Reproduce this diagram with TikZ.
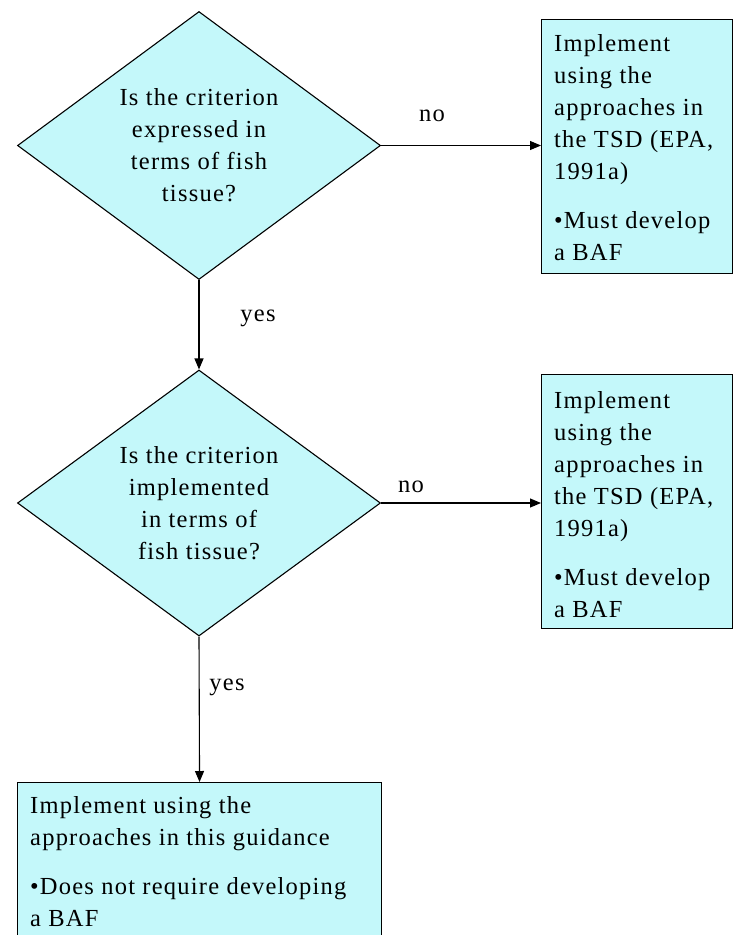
\documentclass[tikz,border=0pt]{standalone}
\usepackage{fontspec}
\setmainfont{Liberation Serif}
\newfontfamily\diagfont{Liberation Serif}[LetterSpace=5]
\usetikzlibrary{shapes.geometric,arrows.meta}
\definecolor{boxfill}{RGB}{196,248,250}
\begin{document}
\begin{tikzpicture}[x=1pt,y=-1pt,
  txt/.style={font=\diagfont\fontsize{24.5}{32}\selectfont},
  decision/.style={diamond, draw=black, fill=boxfill, line width=1.1pt, inner sep=0pt,
    shape aspect=1.354, minimum width=363pt, minimum height=268pt, align=center, txt},
  procbox/.style={rectangle, draw=black, fill=boxfill, line width=1.1pt, inner sep=0pt, anchor=north west},
  boxtext/.style={anchor=north west, align=left, inner sep=0pt, txt},
  lbl/.style={inner sep=0pt, txt},
  arr/.style={line width=1.1pt, -{Triangle[length=11pt,width=9pt]}}]
\useasboundingbox (0,0) rectangle (733,935);
\clip (0,0) rectangle (733,935);
% decisions
\node[decision] (d1) at (199,145.5) {Is the criterion\\expressed in\\terms of fish\\tissue?};
\node[decision, minimum height=266pt] (d2) at (199,503) {Is the criterion\\implemented\\in terms of\\fish tissue?};
% process boxes
\node[procbox, minimum width=191pt, minimum height=254pt] (b1) at (541,19) {};
\node[procbox, minimum width=191pt, minimum height=254pt] (b2) at (541,374) {};
\node[procbox, minimum width=364pt, minimum height=175pt] (b3) at (17,782) {};
% box texts
\node[boxtext] (t1) at (554,34) {Implement\\using the\\approaches in\\the TSD (EPA,\\1991a)\\[17pt]•Must develop\\a BAF};
\node[boxtext] (t2) at (554,391) {Implement\\using the\\approaches in\\the TSD (EPA,\\1991a)\\[17pt]•Must develop\\a BAF};
\node[boxtext] (t3) at (30,796) {Implement using the\\approaches in this guidance\\[17pt]•Does not require developing\\a BAF};
% connectors
\draw[arr] (d1.east) -- (d1.east -| b1.west);
\draw[arr] (d1.south) -- (d2.north);
\draw[arr] (d2.east) -- (d2.east -| b2.west);
\draw[arr] (d2.south) -- (b3.north);
% labels
\node[lbl] (n1) at (432,116) {no};
\node[lbl] (y1) at (258,318) {yes};
\node[lbl] (n2) at (411,487) {no};
\node[lbl] (y2) at (227,687) {yes};
\end{tikzpicture}
\end{document}
